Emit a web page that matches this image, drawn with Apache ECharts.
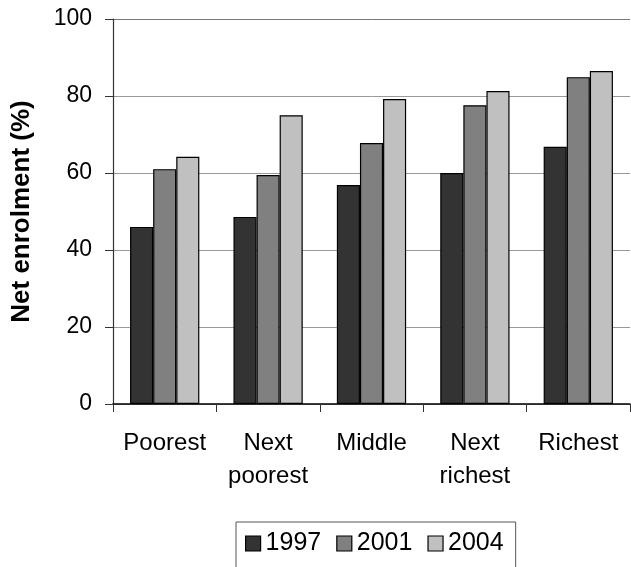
<!DOCTYPE html>
<html>
<head>
<meta charset="utf-8">
<script src="https://cdn.jsdelivr.net/npm/echarts@6/dist/echarts.min.js"></script>
<style>
  html, body { margin: 0; padding: 0; background: #fff; }
  #chart { width: 631px; height: 567px; }
</style>
</head>
<body>
<div id="chart"></div>
<script>
// wealth quintiles
var categories = ["Poorest", "Next\npoorest", "Middle", "Next\nrichest", "Richest"];
var years = ["1997", "2001", "2004"];
var v1997 = [46.0, 48.6, 56.9, 60.0, 66.8];
var v2001 = [61.0, 59.5, 67.8, 77.6, 84.9];
var v2004 = [64.2, 75.0, 79.2, 81.3, 86.5];
var yTicks = [0, 20, 40, 60, 80, 100];

var colors = ["#333333", "#808080", "#c0c0c0"];
var font = "'Liberation Sans', Arial, sans-serif";

var chart = echarts.init(document.getElementById("chart"));

var series = [v1997, v2001, v2004].map(function (v, i) {
  return {
    name: years[i],
    type: "bar",
    data: v,
    barGap: "0%",
    barCategoryGap: "33%",
    itemStyle: {
      color: colors[i],
      borderColor: "#000",
      borderWidth: 1.2
    }
  };
});

chart.setOption({
  animation: false,
  textStyle: { fontFamily: font },
  grid: { left: 113, right: 1, top: 19, bottom: 163 },
  legend: {
    data: years,
    left: 236,
    top: 522,
    itemWidth: 15,
    itemHeight: 15,
    itemGap: 15,
    padding: [9, 12, 30, 9],
    borderColor: "#555",
    borderWidth: 1,
    textStyle: { fontSize: 25, color: "#000", fontFamily: font },
    icon: "rect",
    itemStyle: { borderColor: "#000", borderWidth: 1.2 }
  },
  xAxis: {
    type: "category",
    data: categories,
    axisLine: { lineStyle: { color: "#000", width: 1.5 } },
    axisTick: { show: true, length: 8, lineStyle: { color: "#333" } },
    axisLabel: {
      color: "#000",
      fontSize: 24,
      lineHeight: 33,
      margin: 23,
      fontFamily: font,
      interval: 0
    }
  },
  yAxis: {
    type: "value",
    min: yTicks[0],
    max: yTicks[yTicks.length - 1],
    interval: 20,
    name: "Net enrolment (%)",
    nameLocation: "middle",
    nameGap: 78,
    nameTextStyle: { fontSize: 26, fontWeight: "bold", color: "#000", fontFamily: font },
    axisLine: { show: true, lineStyle: { color: "#333", width: 1.2 } },
    axisTick: { show: true, length: 8, lineStyle: { color: "#333" } },
    axisLabel: { color: "#000", fontSize: 23, margin: 21, fontFamily: font },
    splitLine: { lineStyle: { color: ["#aaa", "#999", "#999", "#999", "#999", "#777"], width: 1 } }
  },
  series: series
});
</script>
</body>
</html>
